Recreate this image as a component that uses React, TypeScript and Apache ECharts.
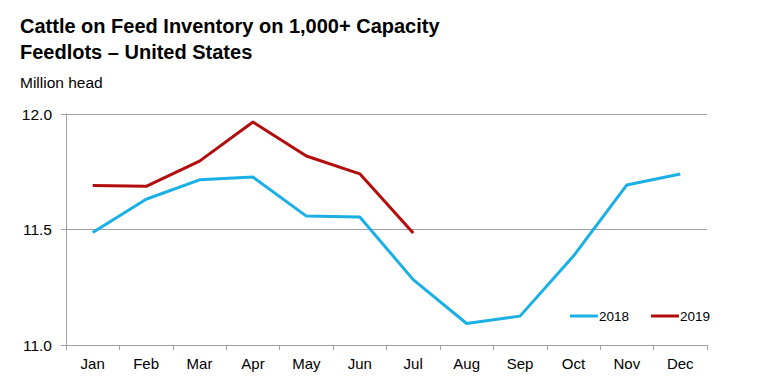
import React, { useEffect, useRef } from "react";
import * as echarts from "echarts";

const months = ["Jan", "Feb", "Mar", "Apr", "May", "Jun", "Jul", "Aug", "Sep", "Oct", "Nov", "Dec"];
const values2018 = [11.487, 11.631, 11.715, 11.727, 11.558, 11.554, 11.283, 11.093, 11.125, 11.385, 11.693, 11.74];
const values2019 = [11.69, 11.687, 11.796, 11.965, 11.818, 11.741, 11.485];
const titleText = "Cattle on Feed Inventory on 1,000+ Capacity\nFeedlots – United States";
const unitText = "Million head";

const FONT = "'Liberation Sans', Arial, sans-serif";

export default function App() {
  const ref = useRef<HTMLDivElement>(null);
  useEffect(() => {
    if (!ref.current) return;
    const chart = echarts.init(ref.current, undefined, { renderer: "svg" });
    chart.setOption({
      animation: false,
      backgroundColor: "#ffffff",
      textStyle: { fontFamily: FONT },
      title: [
        {
          text: titleText,
          left: 15,
          top: 8,
          textStyle: { fontFamily: FONT, fontSize: 20, fontWeight: "bold", color: "#000", lineHeight: 26 },
        },
        {
          text: unitText,
          left: 15,
          top: 69,
          textStyle: { fontFamily: FONT, fontSize: 15.5, fontWeight: "normal", color: "#000" },
        },
      ],
      legend: {
        right: 43,
        top: 304,
        itemWidth: 28,
        itemHeight: 3,
        itemGap: 22,
        icon: "rect",
        textStyle: { fontFamily: FONT, fontSize: 13.5, color: "#000", padding: [0, 0, 0, -4] },
        data: ["2018", "2019"],
      },
      grid: { left: 66, right: 51, top: 114, bottom: 43, containLabel: false },
      xAxis: {
        type: "category",
        data: months,
        boundaryGap: true,
        axisLine: { lineStyle: { color: "#a0a0a0", width: 1 } },
        axisTick: { show: true, alignWithLabel: false, length: 5, lineStyle: { color: "#a0a0a0" } },
        axisLabel: { fontFamily: FONT, fontSize: 15, color: "#000", margin: 11 },
      },
      yAxis: {
        type: "value",
        min: 11.0,
        max: 12.0,
        interval: 0.5,
        axisLine: { show: true, lineStyle: { color: "#a0a0a0", width: 1 } },
        axisTick: { show: true, length: 5, lineStyle: { color: "#a0a0a0" } },
        splitLine: { show: true, lineStyle: { color: "#a0a0a0", width: 1 } },
        axisLabel: {
          fontFamily: FONT,
          fontSize: 15.5,
          color: "#000",
          margin: 14,
          formatter: (v: number) => v.toFixed(1),
        },
      },
      series: [
        {
          name: "2018",
          type: "line",
          data: values2018,
          symbol: "none",
          lineStyle: { color: "#1ab0e6", width: 3 },
          itemStyle: { color: "#1ab0e6" },
        },
        {
          name: "2019",
          type: "line",
          data: values2019,
          symbol: "none",
          lineStyle: { color: "#b30c0c", width: 3 },
          itemStyle: { color: "#b30c0c" },
        },
      ],
    });
    return () => chart.dispose();
  }, []);
  return (
    <div
      ref={ref}
      style={{ position: "fixed", left: 0, top: 0, width: 758, height: 388 }}
    />
  );
}
